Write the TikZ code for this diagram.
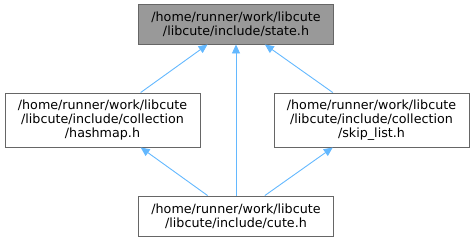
\documentclass[tikz,border=0pt]{standalone}
\usepackage{fontspec}
\setmainfont{DejaVu Sans}
\usepackage{xcolor}
\usepackage{tikz}
\usetikzlibrary{arrows.meta, positioning}
\definecolor{edgeblue}{HTML}{63B8FF}
\definecolor{rootgray}{HTML}{999999}
\definecolor{boxline}{HTML}{666666}

\begin{document}
\begin{tikzpicture}[
          x=1pt, y=-1pt,
          file/.style={draw=boxline, line width=0.9pt, fill=white, minimum width=195pt,
                       inner sep=0pt, align=center, font=\fontsize{12.7}{14}\selectfont},
          arr/.style={{Triangle[length=9pt, width=8pt]}-, color=edgeblue, line width=0.9pt},
        ]
        \useasboundingbox (0,0) rectangle (473,241);
        \node[file, fill=rootgray, minimum height=40pt] (state) at (236,24)
          {/home/runner/work/libcute\\/libcute/include/state.h};
        \node[file, minimum height=54pt] (hash) at (102.5,120)
          {/home/runner/work/libcute\\/libcute/include/collection\\/hashmap.h};
        \node[file, minimum height=54pt] (skip) at (371.5,120)
          {/home/runner/work/libcute\\/libcute/include/collection\\/skip\_list.h};
        \node[file, minimum height=40pt] (cute) at (236,216)
          {/home/runner/work/libcute\\/libcute/include/cute.h};
        \draw[arr] (state) -- (hash);
        \draw[arr] (state) -- (cute);
        \draw[arr] (state) -- (skip);
        \draw[arr] (hash) -- (cute);
        \draw[arr] (skip) -- (cute);
      \end{tikzpicture}
\end{document}
